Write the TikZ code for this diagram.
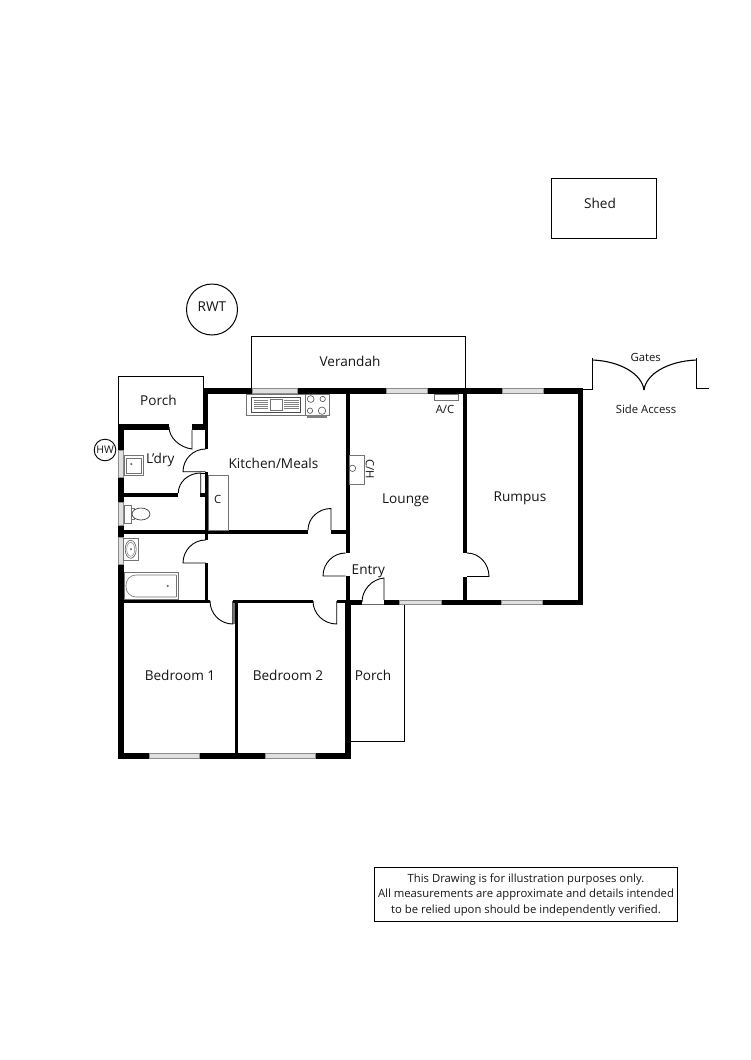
\documentclass[tikz,border=0pt]{standalone}
\usepackage{fontspec}
\setmainfont{Open Sans}
\usetikzlibrary{calc}
\tikzset{
  label/.style={inner sep=0pt,font=\fontsize{13.6}{15}\selectfont,text=black!92},
  small/.style={inner sep=0pt,font=\fontsize{11.3}{13}\selectfont,text=black!92},
  thin line/.style={draw=black,line width=0.9pt},
  fitting/.style={draw=black!55,line width=0.7pt,fill=white},
  doorline/.style={draw=black,line width=0.9pt},
}
\newcommand{\wall}[4]{\fill[black] (#1,#2) rectangle (#3,#4);}
\newcommand{\win}[4]{\filldraw[fill=black!12,draw=black!45,line width=0.5pt] (#1,#2) rectangle (#3,#4);}
% hinge, leaf end, jamb end
\newcommand{\door}[6]{\draw[doorline] (#1,#2) -- (#3,#4) .. controls ($(#3,#4)!0.55!($(#3,#4)+(#5,#6)-(#1,#2)$)$) and ($(#5,#6)!0.55!($(#3,#4)+(#5,#6)-(#1,#2)$)$) .. (#5,#6);}
\begin{document}
\begin{tikzpicture}[x=1pt,y=-1pt]
\useasboundingbox (0,0) rectangle (750,1060);
% outbuildings
\draw[line width=1pt] (551,178) rectangle (656,238);
\node[label] (shed) at (600,203.5) {Shed};
\draw[line width=1pt] (212,309.5) circle (25.5);
\node[label] (rwt) at (212,306.7) {RWT};
\draw[thin line] (251,388) -- (251,336) -- (465.5,336) -- (465.5,388);
\node[label] (verandah) at (350,361) {Verandah};
\draw[thin line,line width=1pt] (118.5,424) -- (118.5,376.5) -- (203,376.5) -- (203,424);
\node[label] (porcha) at (158.5,400.5) {Porch};
\draw[line width=0.9pt] (105,450) circle (10.8);
\node[small,font=\fontsize{10.5}{12}\selectfont] (hw) at (105,450) {HW};
% second porch
\draw[thin line] (350,741.5) -- (404.3,741.5) -- (404.3,605);
\node[label] (porchb) at (373,675) {Porch};
% gates
\draw[thin line] (583,389) -- (592.3,389) -- (592.3,358);
\draw[thin line] (696.7,358) -- (696.7,389);
\draw[thin line] (696.7,388.3) -- (709.3,388.3);
\draw[thin line,line width=1.1pt] (592.3,360) .. controls (620,361) and (642,374) .. (644,390);
\draw[thin line,line width=1.1pt] (696.7,360) .. controls (668,361) and (646,374) .. (644,390);
\node[small] (gates) at (645.7,357.3) {Gates};
\node[small] (side) at (646,409.3) {Side Access};
\draw[thin line] (465.5,388) -- (583,388);
% outer walls
\wall{203}{388}{583.3}{394}
\wall{577.7}{388}{583.3}{605}
\wall{345}{599.5}{583.3}{605}
\wall{117.5}{424}{123.5}{450}
\wall{117.5}{477}{123.5}{502}
\wall{117.5}{525}{123.5}{537}
\wall{117.5}{564}{123.5}{759}
\wall{117.5}{753}{350.7}{759}
\wall{345}{599.5}{350.7}{759}
\wall{234.5}{600}{238.3}{759}
% inner walls
\wall{117.5}{424}{169}{430}
\wall{192}{424}{208.3}{430}
\wall{203}{388}{208.3}{430}
\wall{205}{424}{208.3}{449}
\wall{205}{471.7}{208.3}{540}
\wall{123}{492.7}{178.3}{496.7}
\wall{200}{492.7}{208}{496.7}
\wall{123}{530}{308}{533.5}
\wall{331}{530}{349}{533.5}
\wall{205}{563}{208.3}{602.5}
\wall{120}{599.5}{209.5}{602.7}
\wall{233}{600}{313}{602.7}
\wall{337}{600}{350}{602.7}
\wall{345.5}{394}{349.5}{553}
\wall{345.5}{576}{349.5}{605}
\wall{463.3}{394}{466.7}{553}
\wall{463.3}{576.5}{466.7}{602}
% gap in bottom wall for entry door
\fill[white] (362,599) rectangle (384,605);
\draw[black!60,line width=0.6pt] (362,604.3) -- (384,604.3);
% windows
\win{252}{388.5}{297}{393.5}
\win{386.7}{388.5}{427.7}{393.5}
\win{502}{388.5}{543}{393.5}
\win{399}{600}{441}{604.7}
\win{501}{600}{542}{604.7}
\win{149}{753.5}{199}{758.5}
\win{265.7}{753.5}{315.3}{758.5}
\win{118}{450}{123}{477}
\win{118}{502}{123}{525}
\win{118}{537}{123}{564}
% doors
\door{192}{430}{192}{449}{169}{427}
\door{205.5}{471.7}{183}{471.7}{205.5}{449}
\door{200.7}{493}{200.7}{473}{178.3}{493}
\draw[doorline] (200.7,473) -- (205,473);
\door{331}{530}{331}{508.5}{308}{530}
\door{205.5}{563}{183}{563}{205.5}{540}
\door{345.5}{576}{323}{576}{345.5}{553}
\door{467}{576.5}{489}{576.5}{467}{553}
\door{384}{600}{384}{578}{362}{602}
\door{232.7}{601}{232.7}{624}{210}{601}
\door{336.7}{601}{336.7}{624}{313}{601}
\fill[black!55] (233,602.7) rectangle (234.5,624);
% fittings
\draw[fitting] (208.3,475.7) rectangle (228.3,530);
\node[small] (c) at (217.7,499) {C};
\draw[fitting] (246,394) rectangle (305,415);
\draw[fitting,draw=black!70] (251.7,397.3) rectangle (300.7,412.3);
\fill[black!50] (254,399.5) rectangle (268,410);
\foreach \y in {401,403,405,407,409} \draw[white,line width=0.3pt] (254,\y) -- (268,\y);
\draw[fitting] (270,399.5) rectangle (282,410);
\fill[black!50] (284,399.5) rectangle (298.5,410);
\foreach \y in {401,403,405,407,409} \draw[white,line width=0.3pt] (284,\y) -- (298.5,\y);
\draw[fitting] (305,394) rectangle (329,415);
\draw[black!70,line width=0.6pt] (310.7,399) circle (3.4) (322.7,399) circle (2.7) (310,410.7) circle (2.7) (322,410.7) circle (3.7);
\fill[black!50] (306.7,415) rectangle (327.3,417.7);
\draw[fitting] (434.7,394) rectangle (458.3,400.7);
\node[small] (ac) at (445,409) {A/C};
\draw[fitting] (349.7,455.7) rectangle (364.3,484);
\draw[black!70,line width=0.6pt] (352.5,468.3) circle (3.2);
\node[small,rotate=-90] (ch) at (370,469.3) {C/H};
% laundry trough
\draw[fitting] (124,455.7) rectangle (143.3,475);
\draw[black!55,line width=0.5pt] (126,458) rectangle (141,473);
\fill[black!60] (131.3,464) circle (1.2);
% toilet
\draw[fitting] (124,505) rectangle (131,523.3);
\draw[fitting] (131,508.5) rectangle (134,519.5);
\draw[fitting,draw=black!75] (141,514) ellipse (9 and 6);
% basin
\draw[fitting] (123.5,538.3) rectangle (138.3,560.7);
\draw[black!65,line width=0.6pt] (130.7,549.3) ellipse (5.5 and 9);
\draw[black!50,line width=0.5pt] (130.7,549.3) ellipse (4 and 7);
\fill[black!70] (131,549) circle (1);
% bath
\draw[fitting] (124,572.3) rectangle (178.3,599);
\draw[black!55,line width=0.6pt,rounded corners=10pt] (176,575) -- (126,575) -- (126,597) -- (176,597);
\draw[black!55,line width=0.6pt] (176,575) -- (176,597);
\fill[black!60] (167.7,586) circle (1.2);
% room labels
\node[label] (ldry) at (160.3,459.5) {L’dry};
\node[label] (kitchen) at (273.5,463) {Kitchen/Meals};
\node[label] (lounge) at (405.7,500) {Lounge};
\node[label] (rumpus) at (520,498.5) {Rumpus};
\node[label] (entry) at (368.3,571) {Entry};
\node[label] (bed1) at (180,675) {Bedroom 1};
\node[label] (bed2) at (288,675) {Bedroom 2};
% legend
\draw[line width=1pt] (374,867) rectangle (677,921);
\node[small] (l1) at (526,879.5) {This Drawing is for illustration purposes only.};
\node[small] (l2) at (526,894.5) {All measurements are approximate and details intended};
\node[small] (l3) at (526,910.5) {to be relied upon should be independently verified.};
\end{tikzpicture}
\end{document}
